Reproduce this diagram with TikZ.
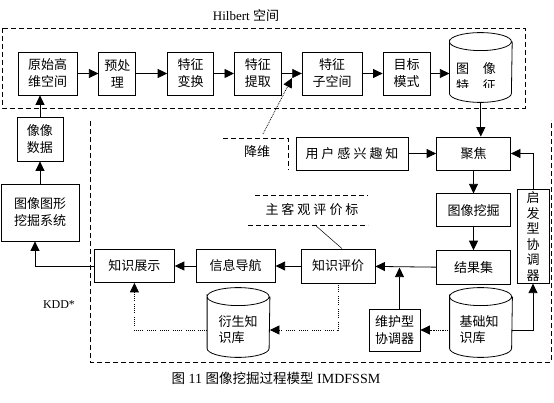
\documentclass[tikz,border=0pt]{standalone}
\usepackage{fontspec}
\setmainfont{Liberation Serif}
\newfontfamily\cjk{Noto Sans CJK SC}
\usetikzlibrary{arrows.meta, positioning, calc}

\newcommand\chgap{\hspace{3pt}}
\newcommand\drawdb[1]{%
  \draw ([yshift=-9pt]#1.north west) arc[start angle=180, end angle=-180, x radius=31pt, y radius=9pt]
    -- ([yshift=9pt]#1.south west) arc[start angle=180, end angle=360, x radius=31pt, y radius=9pt]
    -- ([yshift=-9pt]#1.north east);}

\begin{document}
\begin{tikzpicture}[x=1pt, y=-1pt, line width=0.8pt,
    box/.style={rectangle, draw, align=center, minimum height=43pt, inner sep=2pt, font=\cjk\fontsize{13}{17}\selectfont},
    sbox/.style={box, minimum height=33pt},
    dbase/.style={rectangle, minimum width=62pt, minimum height=69pt, inner sep=0pt},
    txt/.style={align=left, font=\cjk\fontsize{13}{16}\selectfont},
    latin/.style={font=\fontsize{13}{15}\selectfont},
    arr/.style={-{Triangle[length=9.5pt,width=9pt]}},
    dotline/.style={dash pattern=on 0.8pt off 1.2pt on 0.8pt off 1.2pt on 0.8pt off 1.2pt on 0.8pt off 1.2pt on 0.8pt off 4pt},
    frame/.style={dash pattern=on 5pt off 3pt}
]
\useasboundingbox (0,0) rectangle (554,403);

% Hilbert space row
\draw[frame] (2,28) rectangle (525,108);
\node[latin] (hilbert) at (246,16) {Hilbert {\cjk 空间}};
\node[box, minimum width=59pt] (raw) at (47.5,73.5) {原始高\\维空间};
\node[box, minimum width=37pt, right=21pt of raw] (pre) {预处\\理};
\node[box, minimum width=46pt, right=31pt of pre] (trans) {特征\\变换};
\node[box, minimum width=47pt, right=20pt of trans] (extr) {特征\\提取};
\node[box, minimum width=60pt, right=20pt of extr] (sub) {特征\\子空间};
\node[box, minimum width=47pt, right=20pt of sub] (goal) {目标\\模式};
\node[dbase, right=19pt of goal, yshift=6pt] (feat) {};
\drawdb{feat}
\begin{scope}
  \clip (446,40) rectangle (507,88);
  \node[txt, align=center, font=\cjk\fontsize{13}{16.5}\selectfont] (feattxt) at (476,77) {图\hspace{14pt}像\\特\hspace{14pt}征};
\end{scope}

% left column
\node[box, minimum width=46pt, minimum height=44pt] (imgdata) at (40,139) {像像\\数据};
\node[box, minimum width=78pt, minimum height=57pt] (sys) at (40,212.5) {图像图形\\挖掘系统};

% KDD region
\draw[frame] (90,121) -- (90,362) -- (551,362) -- (551,120);
\node[font=\fontsize{12}{14}\selectfont] (kdd) at (59,305) {KDD*};
\draw[frame] (223,138) -- (288,138) -- (288,170);
\node[txt] (dim) at (257,152) {降维};
\draw[frame] (255,195) -- (368,195);
\draw[frame] (248,225) -- (368,225);
\node[txt] (crit) at (312,210) {主\chgap 客\chgap 观\chgap 评\chgap 价\chgap 标};

\node[sbox, minimum width=112pt] (user) at (352,153.5) {用\chgap 户\chgap 感\chgap 兴\chgap 趣\chgap 知};
\node[sbox, minimum width=74pt] (focus) at (473.5,153.5) {聚焦};
\node[sbox, minimum width=74pt, below=23pt of focus] (mine) {图像挖掘};
\node[sbox, minimum width=74pt, minimum height=34pt, below=23pt of mine] (result) {结果集};
\node[box, minimum width=32pt, minimum height=93pt, font=\cjk\fontsize{13}{15.5}\selectfont] (heur) at (533,236.5) {启\\发\\型\\协\\调\\器};

\node[sbox, minimum width=74pt, minimum height=34pt] (eval) at (338,266) {知识评价};
\node[sbox, minimum width=79pt, left=25pt of eval] (nav) {信息导航};
\node[sbox, minimum width=80pt, left=21pt of nav] (show) {知识展示};
\node[box, minimum width=51pt, minimum height=42pt] (maint) at (394.5,330) {维护型\\协调器};

\node[dbase] (base) at (481,322.5) {};
\drawdb{base}
\node[txt] (basetxt) at (479,330) {基础知\\识库};
\node[dbase] (derived) at (238.5,322.5) {};
\drawdb{derived}
\node[txt] (derivedtxt) at (238,330) {衍生知\\识库};

\node[font=\fontsize{14}{16}\selectfont] (caption) at (276,378) {{\cjk\fontsize{13.5}{16}\selectfont 图} 11 {\cjk\fontsize{13.5}{16}\selectfont 图像挖掘过程模型} IMDFSSM};

% connectors
\draw[arr] (raw) -- (pre);
\draw[arr] (pre) -- (trans);
\draw[arr] (trans) -- (extr);
\draw[arr] (extr) -- (sub);
\draw[arr] (sub) -- (goal);
\draw[arr] (goal) -- (goal -| feat.west);
\draw[arr] (imgdata.north) -- (imgdata.north |- raw.south);
\draw[arr] (sys.north) -- (imgdata.south);
\draw[arr] (show.west) -| ([xshift=-5pt]sys.south);
\coordinate (dimpt) at (263,134);
\coordinate (dimtip) at (292,78);
\draw[densely dotted, arr] (dimpt) -- (dimtip);

\draw[arr] (user) -- (focus);
\draw[arr] (feat.south) -- (feat.south |- focus.north);
\draw[arr] (focus) -- (mine);
\draw[arr] (mine) -- (result);
\draw[arr] (heur.north) |- (focus.east);
\draw[arr] (base.east |- maint.east) -| (heur.south);
\draw[densely dotted, arr] (base.west |- maint.east) -- (maint.east);
\draw[arr] (result) -- (eval);
\draw[arr] ([xshift=5pt]maint.north) -- ([xshift=5pt]maint.north |- result.west);
\draw[arr] (eval) -- (nav);
\draw[arr] (nav) -- (show);
\coordinate (critpt) at (315,225);
\draw[line width=0.5pt] (critpt) -- ([xshift=4pt]eval.north);
\draw[dotline, arr] (eval.south) |- (derived.east |- maint.east);
\draw[dotline, arr] (derived.west |- maint.east) -| (show.south);
\end{tikzpicture}
\end{document}
